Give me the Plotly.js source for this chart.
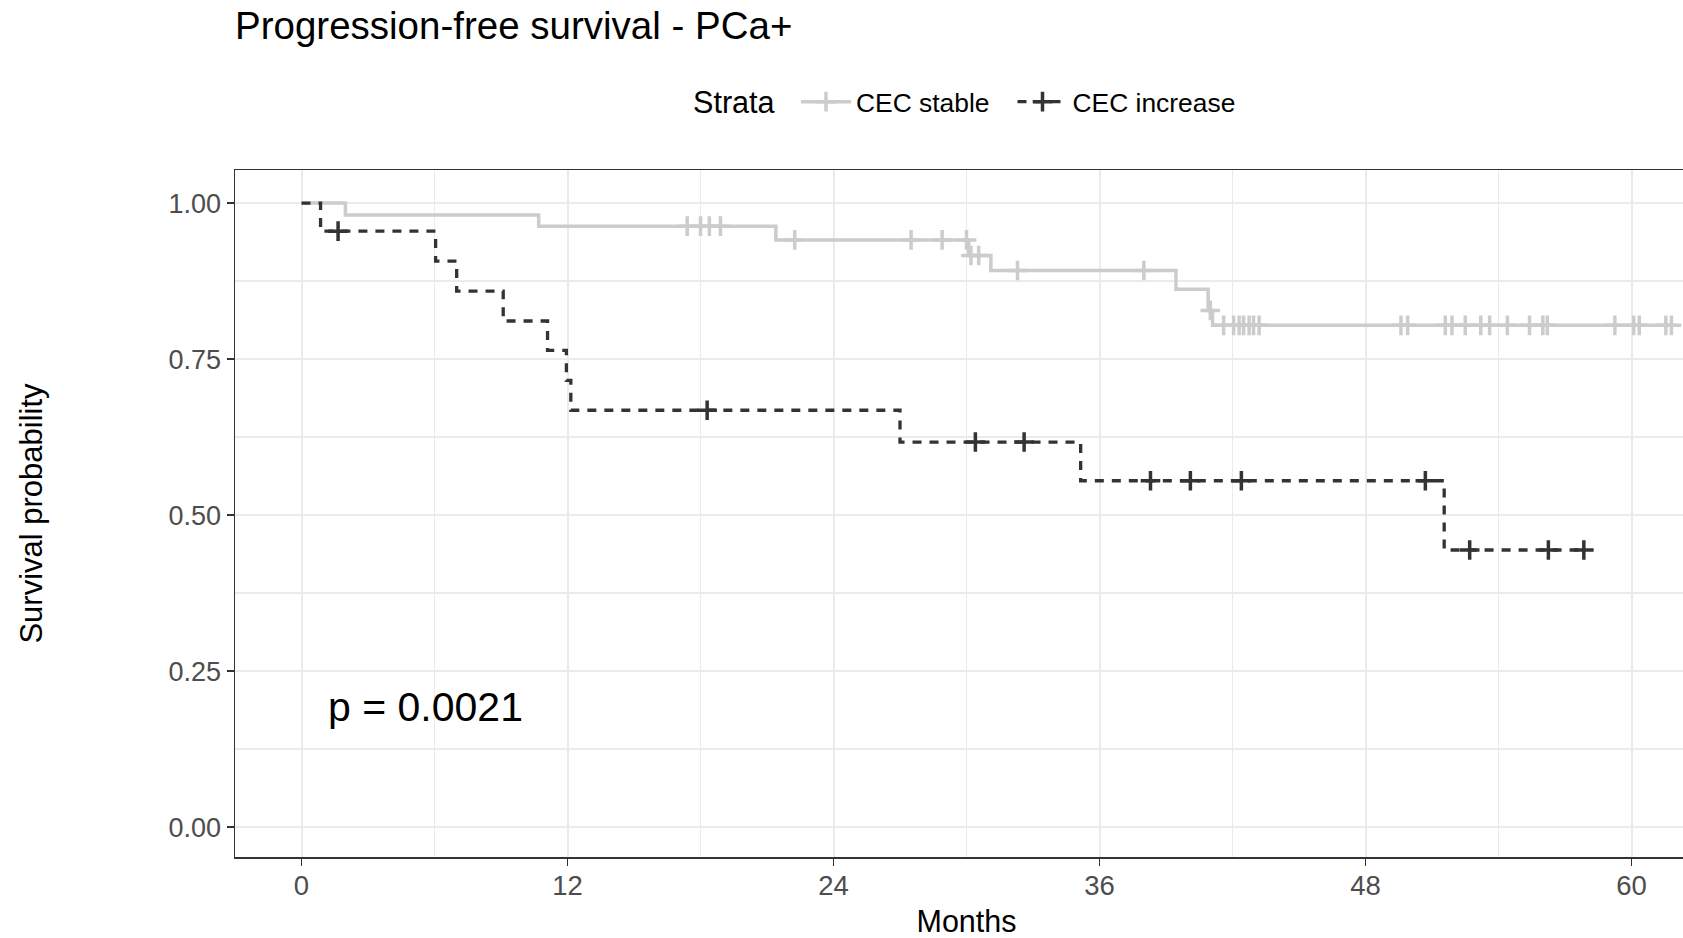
<!DOCTYPE html>
<html>
<head>
<meta charset="utf-8">
<script src="https://cdn.plot.ly/plotly-3.0.1.min.js"></script>
<style>
  html, body { margin: 0; padding: 0; overflow: hidden; background: #fff; }
  #chart { width: 1698px; height: 938px; }
</style>
</head>
<body>
<div id="chart"></div>
<script>
// ---- Data (months, survival probability) ----
const stableTimes = [0, 1.98, 10.7, 21.4, 30.1, 31.1, 39.45, 40.9, 41.1, 61.8];
const stableSurv  = [1, 0.981, 0.963, 0.941, 0.916, 0.892, 0.862, 0.828, 0.804, 0.804];

const stableCensorTimes = [17.4, 18.0, 18.4, 18.9, 22.25, 27.5, 28.9, 30.0, 30.2, 30.55,
  32.3, 38.0, 41.0, 41.6, 42.05, 42.3, 42.5, 42.75, 42.95, 43.2, 49.6, 49.9, 51.6, 51.9,
  52.5, 53.2, 53.6, 54.4, 55.4, 56.0, 56.2, 59.25, 60.1, 60.35, 61.55, 61.8];
const stableCensorSurv = [0.963, 0.963, 0.963, 0.963, 0.941, 0.941, 0.941, 0.941, 0.916, 0.916,
  0.892, 0.892, 0.828, 0.804, 0.804, 0.804, 0.804, 0.804, 0.804, 0.804, 0.804, 0.804, 0.804, 0.804,
  0.804, 0.804, 0.804, 0.804, 0.804, 0.804, 0.804, 0.804, 0.804, 0.804, 0.804, 0.804];

const increaseTimes = [0, 0.86, 6.05, 7.0, 9.1, 11.1, 11.95, 12.15, 27.0, 35.15, 51.55, 57.85];
const increaseSurv  = [1, 0.955, 0.907, 0.859, 0.811, 0.764, 0.716, 0.668, 0.617, 0.555, 0.444, 0.444];

const increaseCensorTimes = [1.65, 18.3, 30.4, 32.6, 38.3, 40.1, 42.4, 50.7, 52.7, 56.25, 57.85];
const increaseCensorSurv  = [0.955, 0.668, 0.617, 0.617, 0.555, 0.555, 0.555, 0.555, 0.444, 0.444, 0.444];

const seriesNames = ['CEC stable', 'CEC increase'];
const legendTitle = 'Strata';
const xTickStep = 12;
const yTickStep = 0.25;
const pValueText = 'p = 0.0021';

// ---- Styles ----
const greyCol = '#cccccc';
const darkCol = '#333333';
const FONT = 'Liberation Sans, Arial, sans-serif';

const crossGrey = { symbol: 'cross-thin', size: 14, color: greyCol, line: { width: 3.5, color: greyCol } };
const crossDark = { symbol: 'cross-thin', size: 14, color: darkCol, line: { width: 3.5, color: darkCol } };

const traces = [
  { x: stableTimes, y: stableSurv, mode: 'lines', line: { shape: 'hv', color: greyCol, width: 3.5 },
    showlegend: false, hoverinfo: 'skip' },
  { x: increaseTimes, y: increaseSurv, mode: 'lines', line: { shape: 'hv', color: darkCol, width: 3.3, dash: '9px,8px' },
    showlegend: false, hoverinfo: 'skip' },
  { x: stableCensorTimes, y: stableCensorSurv, mode: 'markers', marker: crossGrey,
    showlegend: false, hoverinfo: 'skip' },
  { x: increaseCensorTimes, y: increaseCensorSurv, mode: 'markers', marker: crossDark,
    showlegend: false, hoverinfo: 'skip' },
  // legend entries
  { x: [null], y: [null], name: seriesNames[0], mode: 'lines+markers', legendwidth: 151.5,
    line: { color: greyCol, width: 3.5 }, marker: crossGrey },
  { x: [null], y: [null], name: seriesNames[1], mode: 'lines+markers', legendwidth: 180,
    line: { color: darkCol, width: 3.3, dash: '9px,8px' }, marker: crossDark }
];

const W = 1698, H = 938, L = 235, T = 170, B = 81;
const plotW = W - L, plotH = H - T - B;
const yRange = [-0.048, 1.053];

const layout = {
  width: W, height: H,
  margin: { l: L, r: 0, t: T, b: B, pad: 0 },
  paper_bgcolor: '#ffffff', plot_bgcolor: '#ffffff',
  font: { family: FONT, color: '#000' },
  title: {
    text: 'Progression-free survival - PCa+',
    font: { family: FONT, size: 38.5, color: '#000' },
    xref: 'container', x: L / W, xanchor: 'left',
    yref: 'container', y: 1 - 26 / H, yanchor: 'middle'
  },
  xaxis: {
    range: [-3, 63], tick0: 0, dtick: xTickStep,
    ticks: 'outside', ticklen: 7, tickwidth: 1.5, tickcolor: '#333333',
    tickfont: { family: FONT, size: 27.5, color: '#4d4d4d' }, ticklabelstandoff: -4,
    showline: true, linecolor: '#333333', linewidth: 1.5, mirror: true,
    showgrid: true, gridcolor: '#ebebeb', gridwidth: 2, zeroline: false,
    minor: { tick0: 0, dtick: xTickStep / 2, showgrid: true, gridcolor: '#ebebeb', gridwidth: 1.2, ticks: '' },
    title: { text: 'Months', font: { family: FONT, size: 30.5, color: '#000' }, standoff: 17 },
    automargin: false, fixedrange: true
  },
  yaxis: {
    range: yRange, tick0: 0, dtick: yTickStep, tickformat: '.2f',
    ticks: 'outside', ticklen: 7, tickwidth: 1.5, tickcolor: '#333333',
    tickfont: { family: FONT, size: 27, color: '#4d4d4d' },
    showline: true, linecolor: '#333333', linewidth: 1.5, mirror: true,
    showgrid: true, gridcolor: '#ebebeb', gridwidth: 2, zeroline: false,
    minor: { tick0: 0, dtick: yTickStep / 2, showgrid: true, gridcolor: '#ebebeb', gridwidth: 1.2, ticks: '' },
    title: { text: 'Survival probability', font: { family: FONT, size: 31, color: '#000' }, standoff: 116 },
    automargin: false, fixedrange: true
  },
  legend: {
    orientation: 'h', xref: 'paper', x: (796 - L) / plotW, xanchor: 'left',
    yref: 'paper', y: 1 + (T - 102) / plotH, yanchor: 'middle',
    font: { family: FONT, size: 26.4, color: '#000' },
    itemwidth: 50,
    bgcolor: 'rgba(0,0,0,0)', borderwidth: 0, traceorder: 'normal'
  },
  annotations: [
    { x: 1.1, y: 0.193, xref: 'x', yref: 'y', text: pValueText, showarrow: false,
      xanchor: 'left', yanchor: 'middle', font: { family: FONT, size: 41, color: '#000' } },
    { x: (691 - L) / plotW, y: 1 + (T - 102) / plotH, xref: 'paper', yref: 'paper', text: legendTitle,
      showarrow: false, xanchor: 'left', yanchor: 'middle', font: { family: FONT, size: 30.6, color: '#000' } }
  ],
  showlegend: true
};

Plotly.newPlot('chart', traces, layout, { displayModeBar: false, staticPlot: true });
</script>
</body>
</html>
